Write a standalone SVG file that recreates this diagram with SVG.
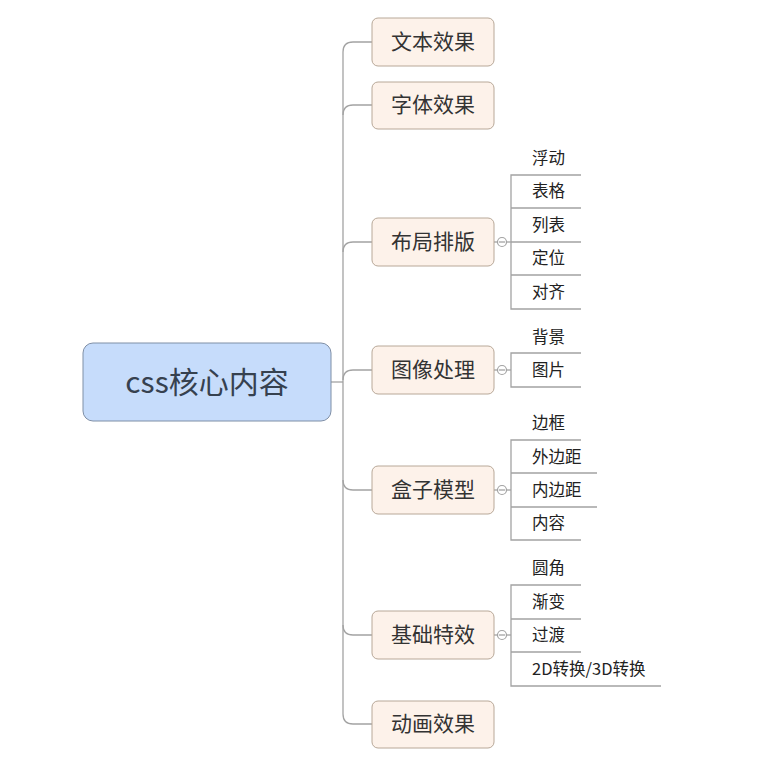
<svg xmlns="http://www.w3.org/2000/svg" width="769" height="761" viewBox="0 0 769 761">
<style>
.root{fill:#c6dcfb;stroke:#7f8fa6;stroke-width:1}
.br{fill:#fdf2ea;stroke:#b8a898;stroke-width:1}
.rt{font-family:"Noto Sans CJK SC",sans-serif;font-size:30px;fill:#36414f;text-anchor:middle}
.bt{font-family:"Noto Sans CJK SC",sans-serif;font-size:21px;fill:#333;text-anchor:middle}
.st{font-family:"Noto Sans CJK SC",sans-serif;font-size:16.5px;fill:#222}
.c{fill:none;stroke:#a3a3a3;stroke-width:1.3}
.col{fill:#fff;stroke:#a3a3a3;stroke-width:1.2}
</style>
<rect width="769" height="761" fill="#fff"/>
<g id="connectors">
<path class="c" d="M331,382 H343"/>
<path class="c" d="M372,42 H353 Q343,42 343,52 V714 Q343,724 353,724 H372"/>
<path class="c" d="M343,115 Q343,105 353,105 H372"/>
<path class="c" d="M343,252 Q343,242 353,242 H372"/>
<path class="c" d="M343,380 Q343,370 353,370 H372"/>
<path class="c" d="M343,480 Q343,490 353,490 H372"/>
<path class="c" d="M343,625 Q343,635 353,635 H372"/>
<path class="c" d="M494,242 H511"/>
<path class="c" d="M581,175 H511 V309 H581 M511,208 H581 M511,242 H581 M511,275 H581"/>
<circle class="col" cx="502" cy="242" r="4.5"/>
<path class="c" d="M499,242 H505"/>
<path class="c" d="M494,370 H511"/>
<path class="c" d="M581,353 H511 V387 H581"/>
<circle class="col" cx="502" cy="370" r="4.5"/>
<path class="c" d="M499,370 H505"/>
<path class="c" d="M494,490 H511"/>
<path class="c" d="M581,440 H511 V540 H581 M511,473 H597 M511,507 H597"/>
<circle class="col" cx="502" cy="490" r="4.5"/>
<path class="c" d="M499,490 H505"/>
<path class="c" d="M494,635 H511"/>
<path class="c" d="M581,585 H511 V686 H661 M511,619 H581 M511,652 H581"/>
<circle class="col" cx="502" cy="635" r="4.5"/>
<path class="c" d="M499,635 H505"/>
</g>
<g id="root"><rect class="root" x="83" y="343" width="248" height="78" rx="10"/><text class="rt" x="207" y="393">css核心内容</text></g>
<g id="n1"><rect class="br" x="372" y="18" width="122" height="48" rx="6"/><text class="bt" x="433" y="49">文本效果</text></g>
<g id="n2"><rect class="br" x="372" y="82" width="122" height="47" rx="6"/><text class="bt" x="433" y="112">字体效果</text></g>
<g id="n3"><rect class="br" x="372" y="218" width="122" height="48" rx="6"/><text class="bt" x="433" y="249">布局排版</text></g>
<g id="n4"><rect class="br" x="372" y="346" width="122" height="48" rx="6"/><text class="bt" x="433" y="377">图像处理</text></g>
<g id="n5"><rect class="br" x="372" y="466" width="122" height="48" rx="6"/><text class="bt" x="433" y="497">盒子模型</text></g>
<g id="n6"><rect class="br" x="372" y="611" width="122" height="48" rx="6"/><text class="bt" x="433" y="642">基础特效</text></g>
<g id="n7"><rect class="br" x="372" y="701" width="122" height="47" rx="6"/><text class="bt" x="433" y="731">动画效果</text></g>
<g id="s1"><text class="st" x="532" y="164">浮动</text></g>
<g id="s2"><text class="st" x="532" y="197">表格</text></g>
<g id="s3"><text class="st" x="532" y="231">列表</text></g>
<g id="s4"><text class="st" x="532" y="264">定位</text></g>
<g id="s5"><text class="st" x="532" y="298">对齐</text></g>
<g id="s6"><text class="st" x="532" y="343">背景</text></g>
<g id="s7"><text class="st" x="532" y="376">图片</text></g>
<g id="s8"><text class="st" x="532" y="429">边框</text></g>
<g id="s9"><text class="st" x="532" y="463">外边距</text></g>
<g id="s10"><text class="st" x="532" y="496">内边距</text></g>
<g id="s11"><text class="st" x="532" y="529">内容</text></g>
<g id="s12"><text class="st" x="532" y="574">圆角</text></g>
<g id="s13"><text class="st" x="532" y="608">渐变</text></g>
<g id="s14"><text class="st" x="532" y="641">过渡</text></g>
<g id="s15"><text class="st" x="532" y="675">2D转换/3D转换</text></g>
</svg>
